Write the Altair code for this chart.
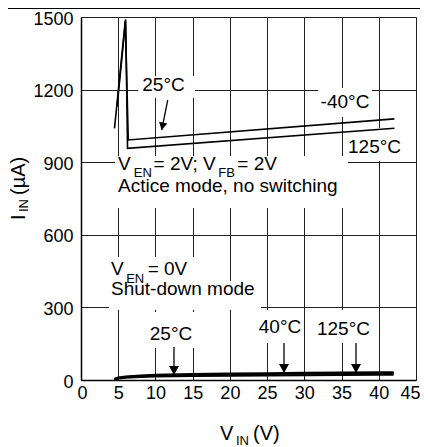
import altair as alt
import pandas as pd

FONT = "Liberation Sans"

# ---- data ----
# active mode (V_EN = 2V, V_FB = 2V)
act_m40_v = [4.5, 5.95, 6.35, 42.1]
act_m40_i = [1040, 1485, 992, 1079]
act_125_v = [4.85, 6.0, 6.25, 42.1]
act_125_i = [1130, 1490, 957, 1040]
# shut-down mode (V_EN = 0V)
sd_v = [4.5, 5, 6, 8, 10, 15, 20, 25, 30, 35, 40, 42]
sd_m40_i = [2, 6, 9, 12, 14, 17, 18, 19, 20, 21, 22, 22]
sd_25_i = [3, 8, 12, 16, 19, 22, 24, 25, 26, 27, 28, 28]
sd_125_i = [5, 10, 15, 19, 22, 25, 27, 28, 30, 31, 32, 32]

x_ticks = [0, 5, 10, 15, 20, 25, 30, 35, 40, 45]
y_ticks = [0, 300, 600, 900, 1200, 1500]

# temperature labels (center, data coords)
temp_text = ["25°C", "-40°C", "125°C", "25°C", "40°C", "125°C"]
temp_x = [11.08, 35.46, 39.43, 12.09, 26.73, 35.26]
temp_y = [1194, 1124, 938, 165, 194, 186]

# condition labels (left aligned, data coords)
cond_text = ["V", "EN", "= 2V; V", "FB", "= 2V", "Actice mode, no switching",
             "V", "EN", "= 0V", "Shut-down mode"]
cond_x = [4.97, 7.1, 9.75, 18.45, 21.0, 4.97, 4.03, 6.07, 8.95, 4.03]
cond_y = [868, 839, 868, 839, 868, 777, 434, 401, 434, 351]
cond_fs = [19, 13, 19, 13, 19, 19, 19, 13, 19, 19]

# white label backgrounds
box_x = [7.66, 31.84, 35.46, 4.57, 3.76, 3.76, 8.73, 23.37, 31.30]
box_x2 = [15.31, 39.09, 44.85, 35.87, 15.99, 24.18, 15.45, 29.82, 39.09]
box_y = [1256, 1207, 1041, 926, 508, 409, 281, 289, 289]
box_y2 = [1165, 1087, 905, 711, 401, 289, 132, 153, 153]

# arrows
arr_x = [11.65, 12.49, 27.27, 36.94]
arr_y = [1157, 136, 153, 153]
arr_x2 = [10.84, 12.49, 27.27, 36.94]
arr_y2 = [1033, 21, 29, 29]
arr_ang = [11, 0, 0, 0]
arr_size = [70, 100, 100, 100]

# ---- tables ----
rows = []
for name, vs, is_ in [("act_m40", act_m40_v, act_m40_i), ("act_125", act_125_v, act_125_i),
                      ("sd_m40", sd_v, sd_m40_i), ("sd_25", sd_v, sd_25_i),
                      ("sd_125", sd_v, sd_125_i)]:
    for k, (v, i) in enumerate(zip(vs, is_)):
        rows.append({"series": name, "v": v, "i": i, "ord": k,
                     "w": 1.6 if name.startswith("act") else 2.0})
lines_df = pd.DataFrame(rows)
temp_df = pd.DataFrame({"t": temp_text, "x": temp_x, "y": temp_y})
cond_df = pd.DataFrame({"t": cond_text, "x": cond_x, "y": cond_y, "fs": cond_fs})
box_df = pd.DataFrame({"x": box_x, "x2": box_x2, "y": box_y, "y2": box_y2})
arr_df = pd.DataFrame({"x": arr_x, "y": arr_y, "x2": arr_x2, "y2": arr_y2,
                       "ang": arr_ang, "sz": arr_size})

xs = alt.Scale(domain=[0, 45], nice=False, zero=False)
ys = alt.Scale(domain=[0, 1500], nice=False, zero=False)

axis_common = dict(grid=True, gridColor="#222222", gridWidth=1, gridOpacity=1,
                   domainColor="black", domainWidth=1.5, ticks=False,
                   labelFont=FONT, labelFontSize=18, labelColor="black",
                   labelOverlap=False, title=None, format="d")
xax = alt.Axis(values=x_ticks, labelPadding=4, labelFlush=True, labelFlushOffset=4,
               **axis_common)
yax = alt.Axis(values=y_ticks, labelPadding=8, labelOffset=2, labelFlush=False,
               **axis_common)


def X(f):
    return alt.X(f, scale=xs, axis=xax)


def Y(f):
    return alt.Y(f, scale=ys, axis=yax)


boxes = alt.Chart(box_df).mark_rect(fill="white", stroke=None).encode(
    x=X("x:Q"), x2="x2:Q", y=Y("y:Q"), y2="y2:Q")

lines = alt.Chart(lines_df).mark_line(color="black", strokeCap="butt").encode(
    x=X("v:Q"),
    y=Y("i:Q"),
    detail="series:N",
    order="ord:Q",
    strokeWidth=alt.StrokeWidth("w:Q", scale=None),
)

temps = alt.Chart(temp_df).mark_text(font=FONT, fontSize=19, color="black",
                                     align="center", baseline="alphabetic").encode(
    x=X("x:Q"), y=Y("y:Q"), text="t:N")

conds = alt.Chart(cond_df).mark_text(font=FONT, color="black",
                                     align="left", baseline="alphabetic").encode(
    x=X("x:Q"), y=Y("y:Q"), text="t:N",
    size=alt.Size("fs:Q", scale=None))

shafts = alt.Chart(arr_df).mark_rule(color="black", strokeWidth=1.3).encode(
    x=X("x:Q"), y=Y("y:Q"), x2="x2:Q", y2="y2:Q")

heads = alt.Chart(arr_df).mark_point(shape="M-1,-1.8L1,-1.8L0,0Z", filled=True,
                                     color="black", opacity=1).encode(
    x=X("x2:Q"), y=Y("y2:Q"),
    angle=alt.Angle("ang:Q", scale=None),
    size=alt.Size("sz:Q", scale=None))

one = pd.DataFrame({"k": [0]})


def seg(s, px, py, fs, angle=0):
    return alt.Chart(one).mark_text(text=s, font=FONT, fontSize=fs, color="black",
                                    align="left", baseline="alphabetic",
                                    angle=angle).encode(x=alt.value(px), y=alt.value(py))


xtitle_text = ["V", "IN", "(V)"]
ytitle_text = ["I", "IN", "(µA)"]
titles = [
    seg(xtitle_text[0], 139, 423, 20),
    seg(xtitle_text[1], 155, 428, 13),
    seg(xtitle_text[2], 172, 423, 20),
    seg(ytitle_text[0], -56, 203, 20, 270),
    seg(ytitle_text[1], -53, 195, 13, 270),
    seg(ytitle_text[2], -56, 178, 20, 270),
]

top_line = alt.Chart(one).mark_rule(color="black", strokeWidth=1).encode(
    x=alt.value(-73), x2=alt.value(339), y=alt.value(-8.5))

chart = alt.layer(boxes, lines, shafts, heads, temps, conds, top_line, *titles).properties(
    width=335, height=363,
    autosize=alt.AutoSizeParams(type="none"),
    padding={"left": 73, "top": 9, "right": 4, "bottom": 70},
).configure_view(stroke="black", strokeWidth=1.5).configure(background="white")

chart.save("out.html", embed_options={"renderer": "svg", "actions": False})
